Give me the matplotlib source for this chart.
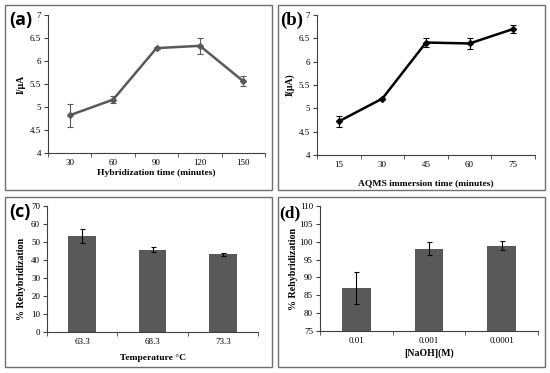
import numpy as np
import matplotlib
matplotlib.use("Agg")
import matplotlib.pyplot as plt
from matplotlib.patches import Rectangle

plt.rcParams['font.family'] = ['Liberation Serif', 'DejaVu Serif']

# panel (a)
hyb_time = ["30", "60", "90", "120", "150"]
hyb_current = [4.82, 5.16, 6.28, 6.33, 5.56]
hyb_err = [0.25, 0.08, 0.02, 0.17, 0.11]

# panel (b)
aqms_time = ["15", "30", "45", "60", "75"]
aqms_current = [4.72, 5.21, 6.41, 6.39, 6.70]
aqms_err = [0.12, 0.02, 0.10, 0.12, 0.08]

# panel (c)
temps = ["63.3", "68.3", "73.3"]
temp_rehyb = [53.5, 45.8, 43.2]
temp_err = [3.8, 1.2, 0.7]

# panel (d)
naoh = ["0.01", "0.001", "0.0001"]
naoh_rehyb = [87.1, 98.1, 98.9]
naoh_err = [4.5, 1.9, 1.3]

W, H = 550, 373
fig = plt.figure(figsize=(W / 100, H / 100), dpi=100)


def frac(l, t, r, b):
    return [l / W, 1 - b / H, (r - l) / W, (b - t) / H]


# panel boxes
for (l, t, r, b) in [(5, 5, 272, 190), (278, 5, 545, 190),
                     (5, 197, 272, 367), (278, 197, 545, 367)]:
    fig.patches.append(Rectangle((l / W, 1 - b / H), (r - l) / W, (b - t) / H,
                                 transform=fig.transFigure, fill=False,
                                 edgecolor='#707070', linewidth=1.0))


def style(ax, n):
    for s in ['top', 'right']:
        ax.spines[s].set_visible(False)
    for s in ['left', 'bottom']:
        ax.spines[s].set_color('#404040')
        ax.spines[s].set_linewidth(0.8)
    ax.set_xlim(-0.5, n - 0.5)
    ax.set_xticks(range(n))
    ax.set_xticks(np.arange(-0.5, n, 1.0), minor=True)
    ax.tick_params(axis='x', which='major', length=0, labelsize=6.5, pad=4)
    ax.tick_params(axis='x', which='minor', length=3, color='#404040')
    ax.tick_params(axis='y', length=3, labelsize=6.5, color='#404040', pad=2)


def line_panel(rect, cats, vals, errs, color, xlabel, xsize, ylabel):
    ax = fig.add_axes(frac(*rect))
    x = np.arange(len(cats))
    ax.errorbar(x, vals, yerr=errs, color=color, lw=1.8, marker='D', ms=3,
                ecolor=color, elinewidth=0.8, capsize=2, capthick=0.8)
    style(ax, len(cats))
    ax.set_xticklabels(cats)
    ax.set_ylim(4, 7)
    ax.set_yticks([4, 4.5, 5, 5.5, 6, 6.5, 7])
    ax.set_yticklabels(['4', '4.5', '5', '5.5', '6', '6.5', '7'])
    ax.set_xlabel(xlabel, fontsize=xsize, fontweight='bold', labelpad=2)
    ax.set_ylabel(ylabel, fontsize=7, fontweight='bold', labelpad=3)
    return ax


def bar_panel(rect, cats, vals, errs, ylim, yticks, xlabel, xsize, ypos):
    ax = fig.add_axes(frac(*rect))
    x = np.arange(len(cats))
    ax.bar(x, vals, width=0.39, color='#595959', bottom=0)
    ax.errorbar(x, vals, yerr=errs, fmt='none', ecolor='black',
                elinewidth=0.8, capsize=1.8, capthick=0.8)
    style(ax, len(cats))
    ax.set_xticklabels(cats)
    ax.set_ylim(*ylim)
    ax.set_yticks(yticks)
    ax.set_xlabel(xlabel, fontsize=xsize, fontweight='bold', labelpad=6)
    ax.set_ylabel('% Rehybridization', fontsize=7.2, fontweight='bold',
                  labelpad=3)
    ax.yaxis.set_label_coords(-0.1, ypos)
    return ax


line_panel((48, 15, 265, 153), hyb_time, hyb_current, hyb_err, '#595959',
           'Hybridization time (minutes)', 6.8, 'I/µA')
axb = line_panel((317, 15, 535, 155), aqms_time, aqms_current, aqms_err,
                 'black', 'AQMS immersion time (minutes)', 6.8, 'I(µA)')
axb.xaxis.labelpad = 8

bar_panel((47, 206, 258, 332), temps, temp_rehyb, temp_err, (0, 70),
          range(0, 71, 10), 'Temperature °C', 6.8, 0.42)
axd = bar_panel((320, 206, 538, 331), naoh, naoh_rehyb, naoh_err, (75, 110),
                range(75, 111, 5), '[NaOH](M)', 7, 0.5)
axd.xaxis.labelpad = 3

# panel letters
fig.text(9 / W, 1 - 25 / H, '(a)', fontsize=13, fontweight='bold',
         family=['Open Sans', 'DejaVu Sans'])
fig.text(280 / W, 1 - 25 / H, '(b)', fontsize=13.5, fontweight='bold')
fig.text(9 / W, 1 - 217 / H, '(c)', fontsize=13, fontweight='bold',
         family=['Open Sans', 'DejaVu Sans'])
fig.text(279 / W, 1 - 217 / H, '(d)', fontsize=12.5, fontweight='bold')

fig.savefig('out.png', dpi=100)
